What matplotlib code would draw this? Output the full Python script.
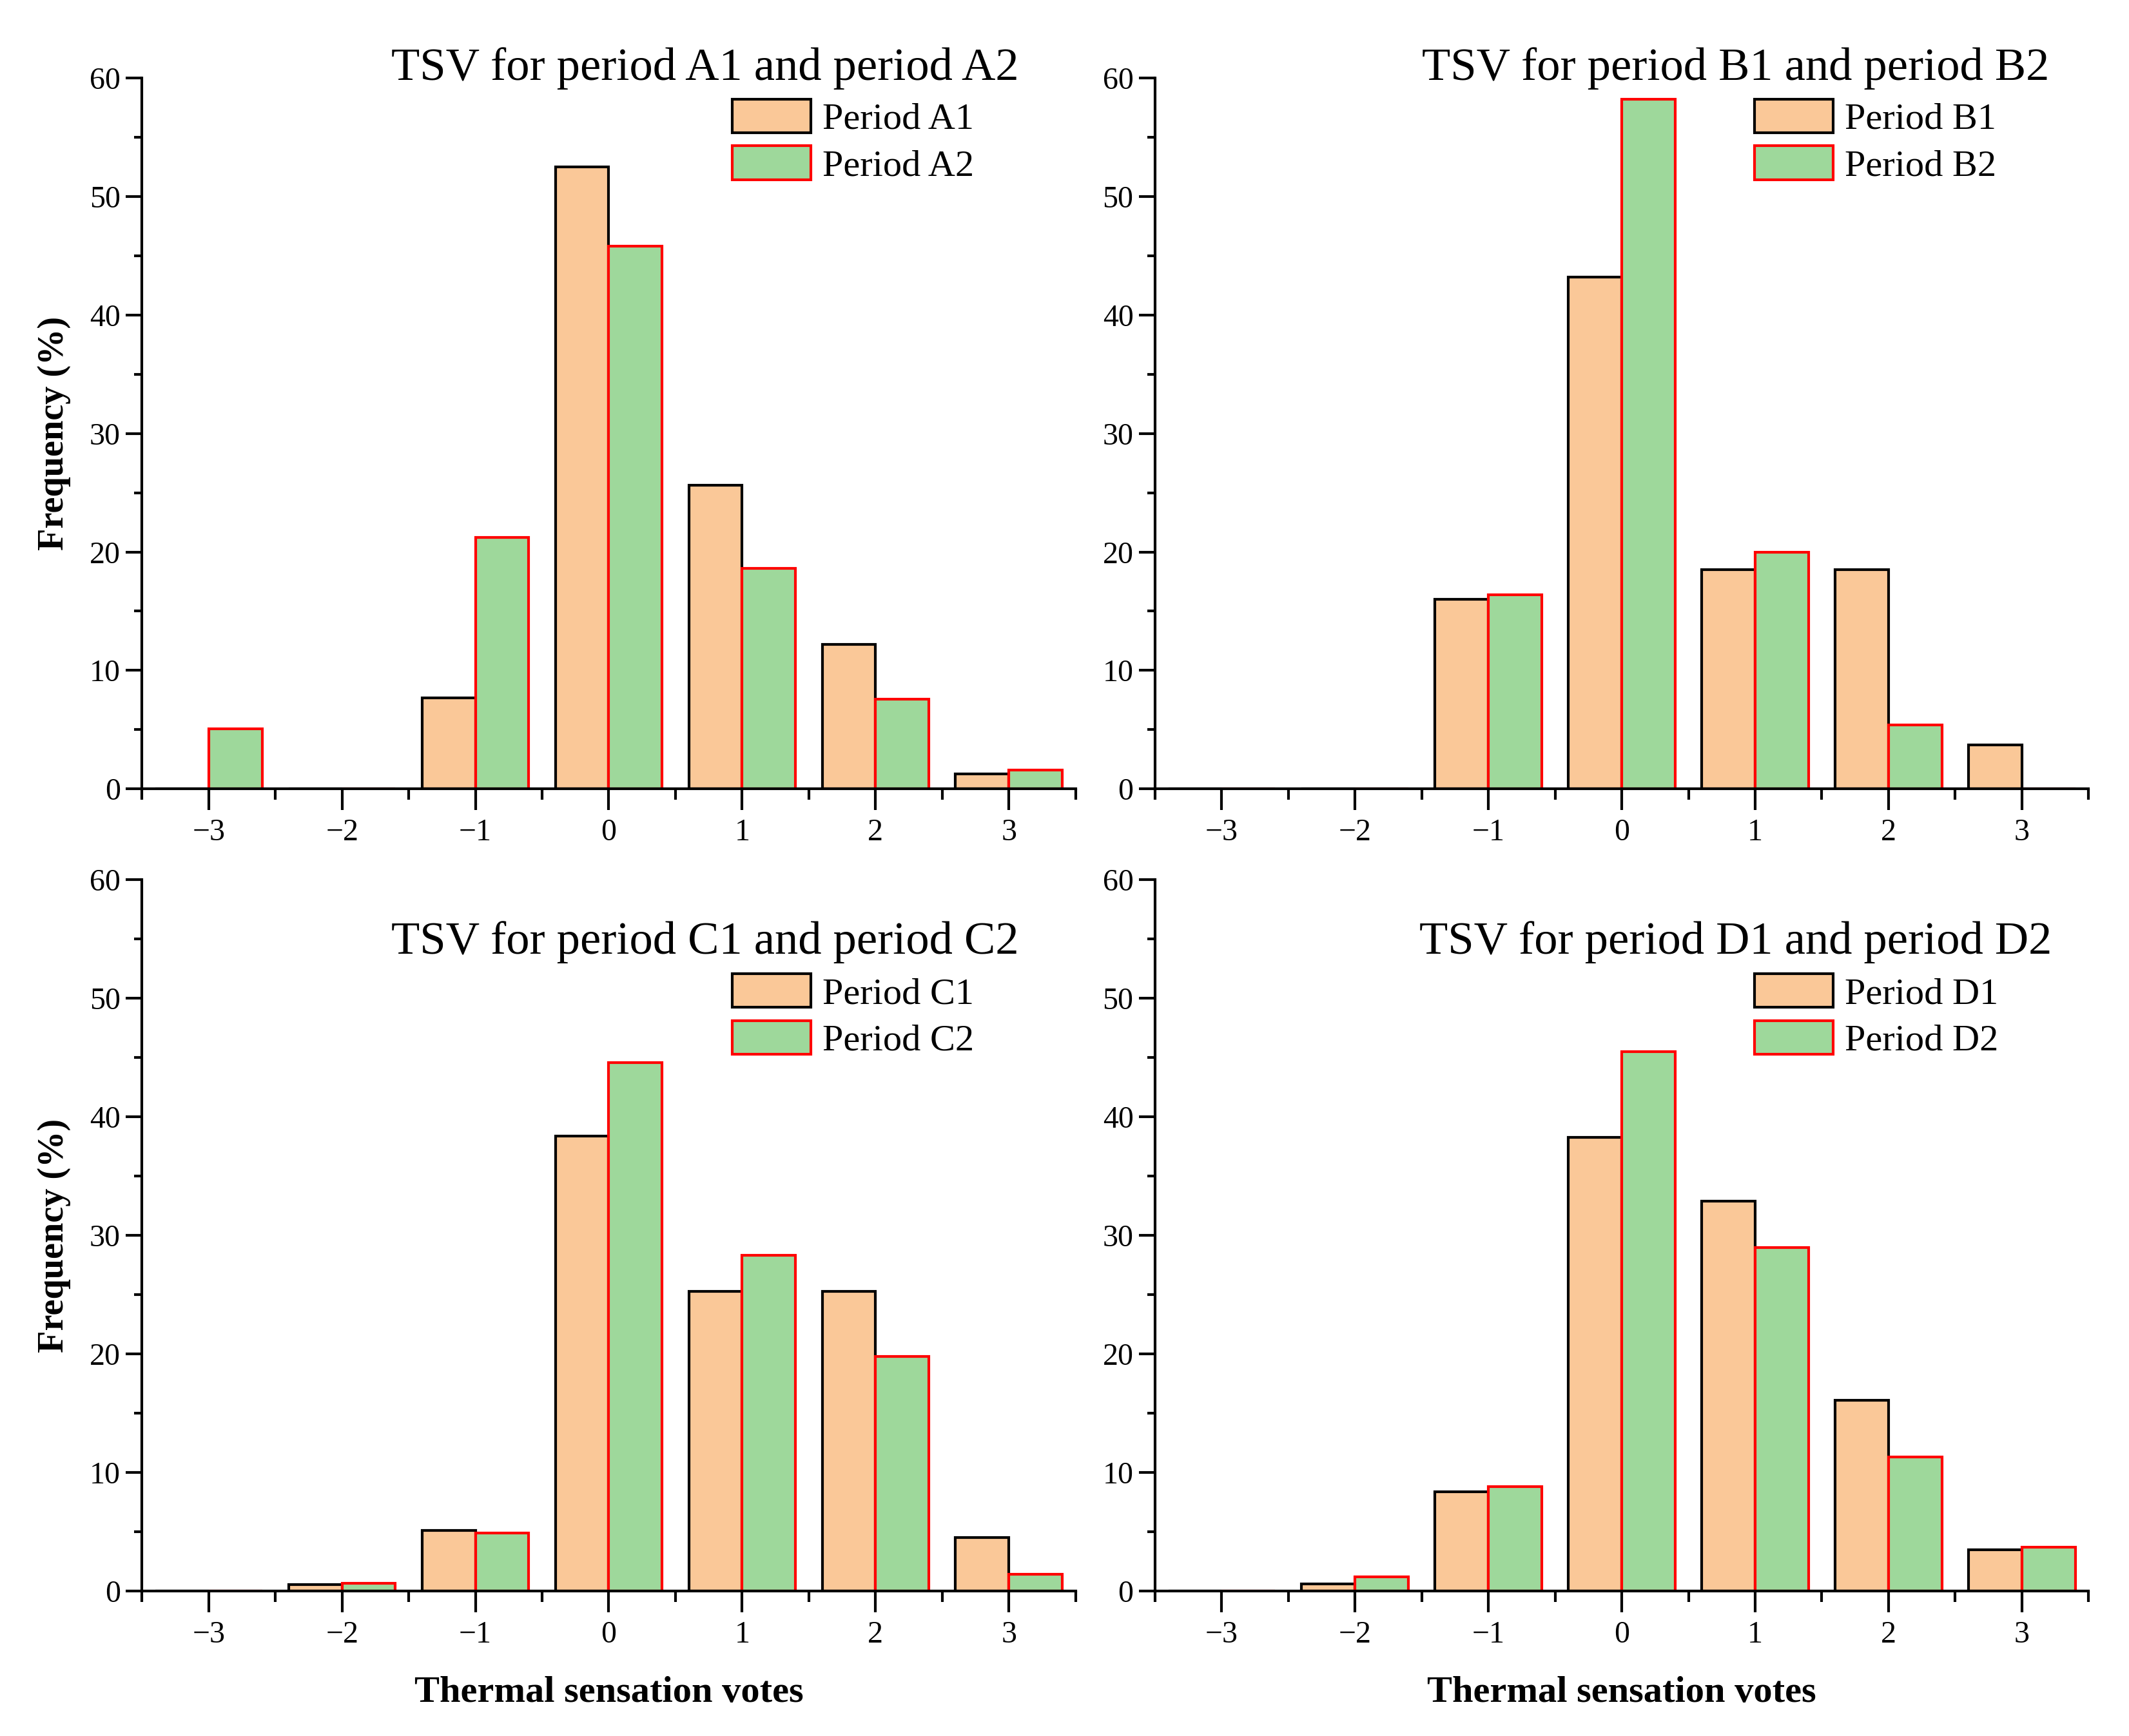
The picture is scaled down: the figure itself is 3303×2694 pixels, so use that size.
import numpy as np
import matplotlib
matplotlib.use('Agg')
import matplotlib.pyplot as plt
from matplotlib.ticker import MultipleLocator

plt.rcParams['font.family'] = ['Liberation Serif', 'DejaVu Serif']

# thermal sensation votes
votes = [-3, -2, -1, 0, 1, 2, 3]

# frequency (%) per period
period_a1 = [0, 0, 7.7, 52.5, 25.6, 12.2, 1.3]
period_a2 = [5.1, 0, 21.2, 45.8, 18.6, 7.6, 1.6]
period_b1 = [0, 0, 16.0, 43.2, 18.5, 18.5, 3.7]
period_b2 = [0, 0, 16.4, 58.2, 20.0, 5.4, 0]
period_c1 = [0, 0.55, 5.1, 38.4, 25.3, 25.3, 4.5]
period_c2 = [0, 0.65, 4.9, 44.6, 28.3, 19.8, 1.4]
period_d1 = [0, 0.6, 8.4, 38.3, 32.9, 16.1, 3.5]
period_d2 = [0, 1.2, 8.8, 45.5, 29.0, 11.3, 3.7]

panels = [
    ('A', period_a1, period_a2),
    ('B', period_b1, period_b2),
    ('C', period_c1, period_c2),
    ('D', period_d1, period_d2),
]

orange = '#FAC898'
green = '#9ED89B'

fig = plt.figure(figsize=(3303 / 300, 2694 / 300), dpi=300)

lefts = [0.0667, 0.5425]
bottoms = [0.5455, 0.0835]
w, h = 0.4385, 0.4097

for i, (name, v1, v2) in enumerate(panels):
    row, col = divmod(i, 2)
    ax = fig.add_axes([lefts[col], bottoms[row], w, h])
    x = np.array(votes)
    ax.bar(x - 0.2, v1, width=0.4, color=orange, edgecolor='black', linewidth=1.0, label=f'Period {name}1')
    ax.bar(x + 0.2, v2, width=0.4, color=green, edgecolor='red', linewidth=1.0, label=f'Period {name}2')

    ax.set_xlim(-3.5, 3.5)
    ax.set_ylim(0, 60)
    ax.xaxis.set_major_locator(MultipleLocator(1))
    ax.xaxis.set_minor_locator(MultipleLocator(0.5))
    ax.yaxis.set_major_locator(MultipleLocator(10))
    ax.yaxis.set_minor_locator(MultipleLocator(5))
    ax.spines['top'].set_visible(False)
    ax.spines['right'].set_visible(False)
    for s in ['left', 'bottom']:
        ax.spines[s].set_linewidth(1.0)
    ax.tick_params(axis='x', which='major', direction='out', length=8, width=1.0, labelsize=11.5, pad=3)
    ax.tick_params(axis='x', which='minor', direction='out', length=4, width=1.0)
    ax.tick_params(axis='y', which='major', direction='out', length=6, width=1.0, labelsize=11.5, pad=2)
    ax.tick_params(axis='y', which='minor', direction='out', length=3, width=1.0)

    if row == 0:
        ty, ly = 1.013, 0.97
    else:
        ty, ly = 0.912, 0.868
    tx = 0.603 if col == 0 else 0.622
    ax.text(tx, ty, f'TSV for period {name}1 and period {name}2', transform=ax.transAxes,
            ha='center', va='center', fontsize=17.4)
    ax.legend(loc='upper left', bbox_to_anchor=(0.632 if col == 0 else 0.642, ly), frameon=False,
              fontsize=14, handlelength=2.1, handleheight=1.0, labelspacing=0.25,
              handletextpad=0.3, borderaxespad=0, borderpad=0)

    if col == 0:
        ax.set_ylabel('Frequency (%)', fontsize=13.5, fontweight='bold', labelpad=7)
    if row == 1:
        ax.set_xlabel('Thermal sensation votes', fontsize=14, fontweight='bold', labelpad=10)

fig.savefig('out.png', dpi=300)
